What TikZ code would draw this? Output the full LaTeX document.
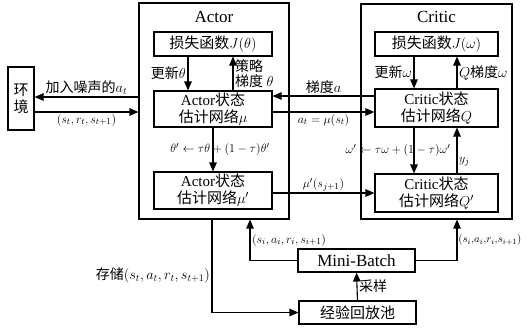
\documentclass[tikz,border=0pt]{standalone}
\usepackage{amsmath}
\usepackage{fontspec}
\setmainfont{Liberation Serif}
\newfontfamily\cjk{Noto Sans CJK SC}
\usetikzlibrary{arrows.meta,positioning}
\newcommand{\zh}[1]{{\cjk #1}}

\begin{document}
\begin{tikzpicture}[x=1pt,y=-1pt,
  font=\fontsize{15}{17}\selectfont,
  netbox/.style={rectangle,draw=black,line width=1.1pt,minimum width=118pt,
               minimum height=36pt,align=center,inner sep=1pt},
  lossbox/.style={netbox,minimum height=24pt},
  groupbox/.style={rectangle,draw=black,line width=1.1pt,inner sep=0pt,align=center},
  lbl/.style={font=\fontsize{14}{14.5}\selectfont,inner sep=1.5pt,align=left},
  mathlbl/.style={font=\fontsize{12.5}{14}\selectfont,inner sep=1.5pt},
  arr/.style={-{Triangle[length=9pt,width=7.5pt]},line width=1.1pt}
]
  \useasboundingbox (0,0) rectangle (530,330);

  % environment
  \node[groupbox,minimum width=26pt,minimum height=63pt] (env) at (21,98.5) {\zh{环}\\\zh{境}};

  % actor side
  \node[groupbox,minimum width=150pt,minimum height=216pt] (actor) at (214,111) {};
  \node[font=\fontsize{17}{19}\selectfont] (actortitle) at (214,17) {Actor};
  \node[lossbox] (aloss) at (213,44) {\zh{损失函数}$J(\theta)$};
  \node[netbox] (astate) at (213,109) {Actor\zh{状态}\\\zh{估计网络}$\mu$};
  \node[netbox,minimum height=37pt] (atarget) at (213,190.5) {Actor\zh{状态}\\\zh{估计网络}$\mu'$};

  % critic side
  \node[groupbox,minimum width=151pt,minimum height=215pt] (critic) at (436.5,111.5) {};
  \node[font=\fontsize{17}{19}\selectfont] (critictitle) at (436.5,17) {Critic};
  \node[lossbox,minimum width=123pt] (closs) at (436.5,44) {\zh{损失函数}$J(\omega)$};
  \node[netbox,minimum width=123pt,minimum height=38pt] (cstate) at (436.5,108) {Critic\zh{状态}\\\zh{估计网络}$Q$};
  \node[netbox,minimum width=123pt,minimum height=38pt] (ctarget) at (436.5,193) {Critic\zh{状态}\\\zh{估计网络}$Q'$};

  % replay
  \node[netbox,minimum width=117pt,minimum height=23pt,font=\fontsize{17}{19}\selectfont] (batch) at (356.5,260.5) {Mini-Batch};
  \node[netbox,minimum width=117pt,minimum height=23pt] (buffer) at (357.5,312.5) {\zh{经验回放池}};

  \draw[arr] ([yshift=1.5pt]env.east -| actor.west) -- ([yshift=1.5pt]env.east)
    node[lbl,midway,above] {\zh{加入噪声的}$a_t$};
  \draw[arr] ([yshift=-13.5pt]env.east) -- ([yshift=-13.5pt]env.east -| actor.west)
    node[mathlbl,midway,below] {$(s_t,r_t,s_{t+1})$};

  \draw[arr] ([xshift=-25pt]aloss.south) -- ([xshift=-25pt]astate.north)
    node[lbl,midway,left] {\zh{更新}$\theta$};
  \draw[arr] ([xshift=20pt]astate.north) -- ([xshift=20pt]aloss.south)
    node[lbl,midway,right] {\zh{策略}\\\zh{梯度} $\theta$};
  \draw[arr] (astate.south) -- (atarget.north)
    node[mathlbl,midway,xshift=7pt] {$\theta'\leftarrow\tau\theta+(1-\tau)\theta'$};

  \draw[arr] ([yshift=12pt]cstate.west) -- ([yshift=12pt]cstate.west -| astate.east)
    node[lbl,midway,above] {\zh{梯度}$a$};
  \draw[arr] ([yshift=-3pt]astate.east) -- ([yshift=-3pt]astate.east -| cstate.west)
    node[mathlbl,midway,below] {$a_t=\mu(s_t)$};
  \draw[arr] ([yshift=-2.5pt]atarget.east) -- ([yshift=-2.5pt]atarget.east -| ctarget.west)
    node[mathlbl,midway,above] {$\mu'(s_{j+1})$};

  \draw[arr] ([xshift=-22.5pt]closs.south) -- ([xshift=-22.5pt]cstate.north)
    node[lbl,midway,left] {\zh{更新}$\omega$};
  \draw[arr] ([xshift=20.5pt]cstate.north) -- ([xshift=20.5pt]closs.south)
    node[lbl,midway,right] {$Q$\zh{梯度}$\omega$};
  \draw[arr] ([xshift=-22.5pt]cstate.south) -- ([xshift=-22.5pt]ctarget.north)
    node[mathlbl,midway,xshift=-16pt] {$\omega'\leftarrow\tau\omega+(1-\tau)\omega'$};
  \draw[arr] ([xshift=20.5pt]ctarget.north) -- ([xshift=20.5pt]cstate.south)
    node[mathlbl,pos=0.25,right] {$y_j$};

  \draw[arr] (batch.east) -| ([xshift=20.5pt]critic.south)
    node[mathlbl,pos=0.75,right,font=\fontsize{11}{13}\selectfont,inner sep=0.8pt]
      {$(s_i,\!a_i,\!r_i,\!s_{i+1})$};
  \draw[arr] (batch.west) -| ([xshift=36pt]actor.south)
    node[mathlbl,pos=0.75,right] {$(s_i,a_i,r_i,s_{i+1})$};
  \draw[arr] ([xshift=-2pt]actor.south) |- (buffer.west)
    node[lbl,pos=0.3,left] {\zh{存储}$(s_t,a_t,r_t,s_{t+1})$};
  \draw[arr] (buffer.north) -- (batch.south)
    node[lbl,midway,right] {\zh{采样}};
\end{tikzpicture}
\end{document}
